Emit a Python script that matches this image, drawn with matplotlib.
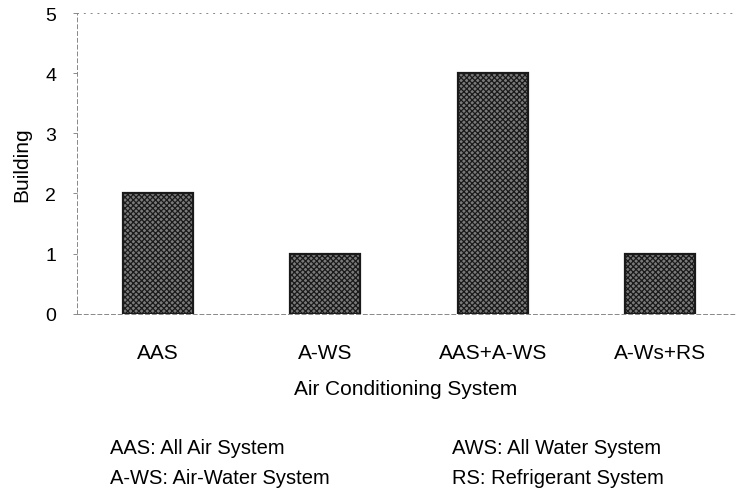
import matplotlib.pyplot as plt
import numpy as np

plt.rcParams['font.family'] = ['Liberation Sans', 'DejaVu Sans']
plt.rcParams['hatch.linewidth'] = 0.9

# data
systems = ['AAS', 'A-WS', 'AAS+A-WS', 'A-Ws+RS']
buildings = [2, 1, 4, 1]
notes_left = ['AAS: All Air System', 'A-WS: Air-Water System']
notes_right = ['AWS: All Water System', 'RS: Refrigerant System']

fig = plt.figure(figsize=(7.39, 5.02), dpi=100)
ax = fig.add_axes([0.104, 0.373, 0.891, 0.599])

x = np.arange(len(systems))
ax.bar(x, buildings, width=0.42, facecolor='#7a7a7a', edgecolor='#1a1a1a',
       hatch='xxxxxx', linewidth=1.6, zorder=3)

ax.set_xlim(-0.485, 3.45)
ax.set_ylim(0, 5)
ax.set_yticks([0, 1, 2, 3, 4, 5])
ax.set_xticks(x)
ax.set_xticklabels(systems, fontsize=15)
ax.tick_params(axis='y', labelsize=14, length=3, width=0.6, color='#777', pad=12)
ax.tick_params(axis='x', length=0, pad=21)

for s in ['right']:
    ax.spines[s].set_visible(False)
for s in ['left', 'top', 'bottom']:
    ax.spines[s].set_linestyle((0, (4, 3)))
    ax.spines[s].set_linewidth(0.7)
    ax.spines[s].set_color('#888')
ax.spines['top'].set_linestyle((0, (1, 6)))

ax.set_ylabel('Building', fontsize=15, labelpad=10)
ax.set_xlabel('Air Conditioning System', fontsize=15, labelpad=12)

for i, (l, r) in enumerate(zip(notes_left, notes_right)):
    yy = 1 - (449 + 30 * i) / 502
    fig.text(110 / 739, yy, l, fontsize=14.5, va='center')
    fig.text(452 / 739, yy, r, fontsize=14.5, va='center')

fig.savefig('out.png', dpi=100)
